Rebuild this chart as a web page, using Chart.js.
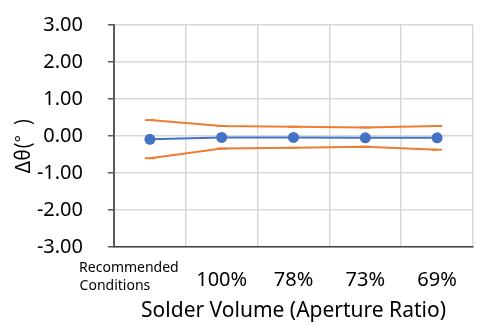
<!DOCTYPE html>
<html>
<head>
<meta charset="utf-8">
<script src="https://cdn.jsdelivr.net/npm/chart.js@4/dist/chart.umd.min.js"></script>
<style>
  html, body { margin: 0; padding: 0; background: #ffffff; }
  #wrap { width: 481px; height: 325px; }
</style>
</head>
<body>
<div id="wrap"><canvas id="c" width="481" height="325"></canvas></div>
<script>
// Solder volume conditions along the x axis
const categories = [['Recommended\u2002\u2002\u2002\u2002\u2002\u2002', 'Conditions\u2002\u2002\u2002\u2002\u2002\u2002\u2002\u2002\u2002\u2002'], '100%', '78%', '73%', '69%'];
// Tilt angle change Δθ (degrees): mean, maximum and minimum per condition
const meanValues = [-0.09, -0.04, -0.04, -0.05, -0.05];
const maxValues = [0.43, 0.27, 0.25, 0.23, 0.27];
const minValues = [-0.60, -0.34, -0.32, -0.29, -0.37];
// Value axis ticks
const yTicks = [-3, -2, -1, 0, 1, 2, 3];

const FONT = '"Noto Sans", "Liberation Sans", sans-serif';
const ORANGE = '#ED7D31';
const BLUE = '#4472C4';
const GRID = '#D9D9D9';
const AXIS = '#595959';

// Fixed axis band sizes (px)
const Y_AXIS_WIDTH = 114;
const X_AXIS_HEIGHT = 78;

const rangeStyle = {
  borderColor: ORANGE,
  backgroundColor: ORANGE,
  borderWidth: 2,
  pointStyle: 'line',
  pointRadius: 5,
  pointBorderWidth: 2,
  pointHoverRadius: 5,
  fill: false,
  tension: 0,
  order: 2
};

new Chart(document.getElementById('c'), {
  type: 'line',
  data: {
    labels: categories,
    datasets: [
      {
        label: 'Mean',
        data: meanValues,
        borderColor: BLUE,
        backgroundColor: BLUE,
        borderWidth: 2,
        pointStyle: 'circle',
        pointRadius: 5.5,
        pointBorderWidth: 0,
        pointHoverRadius: 5.5,
        fill: false,
        tension: 0,
        order: 0
      },
      Object.assign({ label: 'Max', data: maxValues }, rangeStyle),
      Object.assign({ label: 'Min', data: minValues }, rangeStyle)
    ]
  },
  options: {
    responsive: false,
    animation: false,
    events: [],
    layout: { padding: { left: 0, right: 8, top: 25, bottom: 0 } },
    plugins: {
      legend: { display: false },
      tooltip: { enabled: false }
    },
    scales: {
      x: {
        type: 'category',
        offset: true,
        afterFit: (axis) => {
          axis.paddingLeft = 0;
          axis.paddingRight = 0;
          axis.height = X_AXIS_HEIGHT;
        },
        grid: {
          offset: true,
          color: GRID,
          lineWidth: 1.5,
          drawTicks: false
        },
        border: { color: '#404040', width: 1.5 },
        ticks: {
          color: '#000000',
          autoSkip: false,
          maxRotation: 0,
          minRotation: 0,
          crossAlign: 'far',
          padding: 21,
          font: (ctx) => ctx.index === 0
            ? { family: FONT, size: 14, lineHeight: 1.3 }
            : { family: FONT, size: 20, lineHeight: 1.2 }
        },
        title: {
          display: true,
          text: 'Solder Volume (Aperture Ratio)',
          color: '#000000',
          font: { family: FONT, size: 21 },
          padding: { top: 0, bottom: 1 }
        }
      },
      y: {
        min: yTicks[0],
        max: yTicks[yTicks.length - 1],
        afterBuildTicks: (axis) => { axis.ticks = yTicks.map(v => ({ value: v })); },
        afterFit: (axis) => {
          axis.width = Y_AXIS_WIDTH;
          axis.paddingTop = 0;
          axis.paddingBottom = 0;
        },
        grid: {
          color: GRID,
          lineWidth: 1.5,
          tickColor: AXIS,
          tickLength: 6
        },
        border: { color: AXIS, width: 2 },
        ticks: {
          color: '#000000',
          padding: 25,
          font: { family: FONT, size: 20 },
          callback: (v) => Number(v).toFixed(2)
        },
        title: {
          display: true,
          text: 'Δθ(°\u2002)\u2002\u2002',
          color: '#000000',
          font: { family: '"Noto Sans CJK JP", ' + FONT, size: 20 },
          padding: { top: 10, bottom: 0 }
        }
      }
    }
  }
});
</script>
</body>
</html>
